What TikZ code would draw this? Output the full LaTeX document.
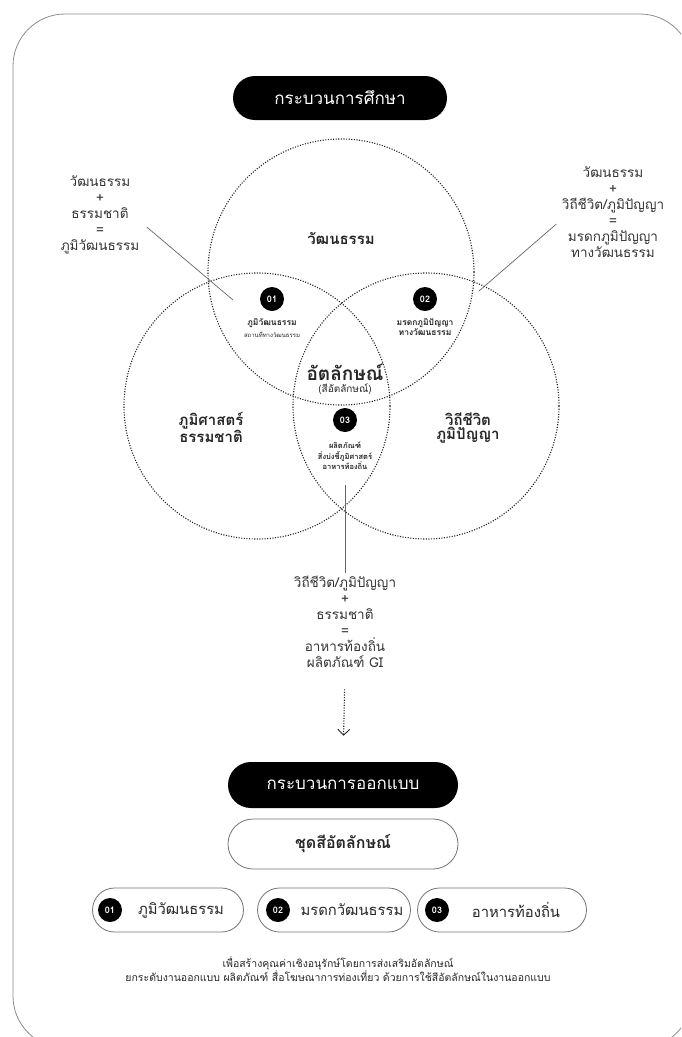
\documentclass[tikz,border=0pt]{standalone}
\usepackage{fontspec}
\setmainfont[Script=Thai]{Loma}
\usetikzlibrary{arrows.meta,shapes.misc}

\begin{document}
\begin{tikzpicture}[x=1pt,y=-1pt,
  darkpill/.style={rounded rectangle,fill=black,text=white,inner sep=0pt,
    minimum width=214,minimum height=44,font=\fontsize{17}{20}\selectfont},
  lightpill/.style={rounded rectangle,draw=black!55,line width=0.8pt,inner sep=0pt,
    minimum height=44},
  badge/.style={circle,fill=black,text=white,inner sep=0pt,minimum size=24,
    font=\fontsize{9}{10}\selectfont\bfseries},
  set/.style={circle,draw=black!85,dash pattern=on 1.1pt off 1.5pt,line width=1.1pt,
    minimum size=266,inner sep=0pt},
  note/.style={align=center,text=black!80,font=\fontsize{13.5}{16}\selectfont},
  setlbl/.style={align=center,text=black!85,font=\fontsize{15}{14}\selectfont\bfseries},
  small/.style={align=center,text=black!85,font=\fontsize{8.5}{10.5}\selectfont\bfseries},
  itemtxt/.style={text=black!85,font=\fontsize{14.8}{16}\selectfont},
  link/.style={draw=black!60,line width=0.7pt}]
 \useasboundingbox (0,0) rectangle (681,1037);
 \clip (0,0) rectangle (681,1037);
 % outer frame
 \draw[black!45,line width=0.8pt,rounded corners=52] (13,14) rectangle (692,1048);
 % study process
 \node[darkpill] (study) at (340,98) {กระบวนการศึกษา};
 % three sets
 \node[set] (culture) at (341,272) {};
 \node[set] (nature) at (257,406) {};
 \node[set] (wisdom) at (426,406) {};
 \node[setlbl] (culturelbl) at (341,238) {วัฒนธรรม};
 \node[setlbl] (naturelbl) at (211,427) {ภูมิศาสตร์\\ธรรมชาติ};
 \node[setlbl] (wisdomlbl) at (468,428) {วิถีชีวิต\\ภูมิปัญญา};
 % overlaps
 \node[badge] (b01) at (272,299) {01};
 \node[small] (s01) at (272,323) {ภูมิวัฒนธรรม};
 \node[align=center,text=black!85,font=\fontsize{6}{7}\selectfont] (s01b) at (272,334) {สถานที่ทางวัฒนธรรม};
 \node[badge] (b02) at (425,299) {02};
 \node[small] (s02) at (425,327) {มรดกภูมิปัญญา\\ทางวัฒนธรรม};
 \node[align=center,text=black!85,font=\fontsize{19}{20}\selectfont\bfseries] (core) at (345,372) {อัตลักษณ์};
 \node[align=center,text=black!85,font=\fontsize{10}{12}\selectfont] (corecol) at (345,389) {(สีอัตลักษณ์)};
 \node[badge] (b03) at (345,420) {03};
 \node[small,font=\fontsize{7.5}{10.5}\selectfont\bfseries] (s03) at (345,456) {ผลิตภัณฑ์\\สิ่งบ่งชี้ภูมิศาสตร์\\อาหารท้องถิ่น};
 % side notes
 \node[note] (leftnote) at (100,215) {วัฒนธรรม\\+\\ธรรมชาติ\\=\\ภูมิวัฒนธรรม};
 \node[note] (rightnote) at (613,212) {วัฒนธรรม\\+\\วิถีชีวิต/ภูมิปัญญา\\=\\มรดกภูมิปัญญา\\ทางวัฒนธรรม};
 \node[note] (bottomnote) at (345,622) {วิถีชีวิต/ภูมิปัญญา\\+\\ธรรมชาติ\\=\\อาหารท้องถิ่น\\ผลิตภัณฑ์ GI};
 \coordinate (leftend) at (233,300);
 \coordinate (rightend) at (479,291);
 \coordinate (lensend) at (345,485);
 \path[link] ([xshift=4pt,yshift=-12pt]leftnote.east) -- (leftend);
 \path[link] ([xshift=-2pt,yshift=-12pt]rightnote.west) -- (rightend);
 \path[link] (lensend) -- (bottomnote.north);
 % design process
 \node[darkpill,minimum width=230,minimum height=46] (design) at (343,785) {กระบวนการออกแบบ};
 \draw[black!85,dash pattern=on 1.1pt off 1.5pt,line width=1.1pt,shorten <=18pt,shorten >=26pt,
   -{Straight Barb[length=6pt,width=12pt,line width=0.9pt]}] (bottomnote.south) -- (design.north);
 \node[lightpill,minimum width=230,minimum height=50,font=\fontsize{16}{18}\selectfont\bfseries,text=black!85] (palette) at (343,844) {ชุดสีอัตลักษณ์};
 % three outputs
 \node[lightpill,minimum width=151] (p01) at (168,910) {};
 \node[badge] (pb01) at (110,910) {01};
 \node[itemtxt] (pt01) at (181,910) {ภูมิวัฒนธรรม};
 \node[lightpill,minimum width=153] (p02) at (334,910) {};
 \node[badge] (pb02) at (278,910) {02};
 \node[itemtxt] (pt02) at (352,910) {มรดกวัฒนธรรม};
 \node[lightpill,minimum width=169] (p03) at (502,910) {};
 \node[badge] (pb03) at (437,910) {03};
 \node[itemtxt] (pt03) at (516,910) {อาหารท้องถิ่น};
 \node[align=center,text=black!85,font=\fontsize{10.5}{14}\selectfont] (goal) at (338,969)
   {เพื่อสร้างคุณค่าเชิงอนุรักษ์โดยการส่งเสริมอัตลักษณ์\\ยกระดับงานออกแบบ ผลิตภัณฑ์ สื่อโฆษณาการท่องเที่ยว ด้วยการใช้สีอัตลักษณ์ในงานออกแบบ};
\end{tikzpicture}
\end{document}
